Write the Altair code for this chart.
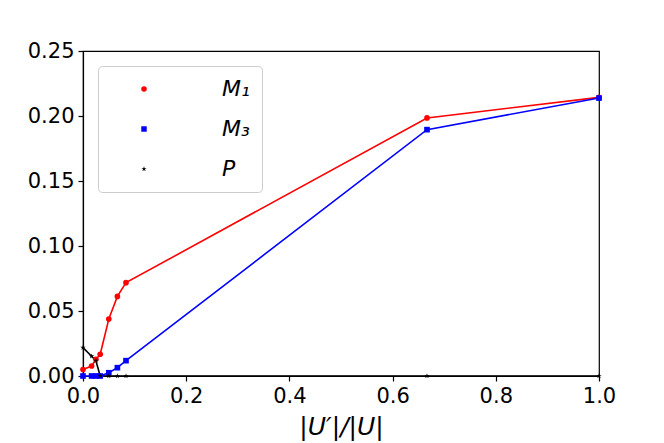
import altair as alt
import pandas as pd

x_vals = [0.0, 1/60, 1/40, 1/30, 1/20, 1/15, 1/12, 2/3, 1.0]
m1_vals = [0.005, 0.0077, 0.0128, 0.0167, 0.0438, 0.0612, 0.0718, 0.1985, 0.2143]
m3_vals = [0.0, 0.0, 0.0, 0.0, 0.0025, 0.0064, 0.0118, 0.1895, 0.2138]
p_vals = [0.0218, 0.0152, 0.0118, 0.0, 0.0, 0.0, 0.0, 0.0, 0.0]

series_names = ["M₁", "M₃", "P"]
series_colors = ["#ff0000", "#0000ff", "#000000"]
STAR = ("M0,-1L0.2245,-0.309L0.951,-0.309L0.363,0.118L0.588,0.809L0,0.382"
        "L-0.588,0.809L-0.363,0.118L-0.951,-0.309L-0.2245,-0.309Z")
series_shapes = ["circle", "square", STAR]

x_ticks = [0.0, 0.2, 0.4, 0.6, 0.8, 1.0]
y_ticks = [0.0, 0.05, 0.10, 0.15, 0.20, 0.25]

rows = []
for name, ys in zip(series_names, [m1_vals, m3_vals, p_vals]):
    for i, (xv, yv) in enumerate(zip(x_vals, ys)):
        rows.append({"x": xv, "y": yv, "series": name, "line_series": name, "order": i})
df = pd.DataFrame(rows)

color_scale = alt.Scale(domain=series_names, range=series_colors)
# data-derived domain (sorted: M₁, M₃, P) so it is not merged with the legend
line_scale = alt.Scale(range=series_colors)
shape_scale = alt.Scale(domain=series_names, range=series_shapes)

x_enc = alt.X("x:Q", scale=alt.Scale(domain=[0, 1], nice=False, zero=False),
              axis=alt.Axis(values=x_ticks, format=".1f", title="|U′|/|U|",
                            labelFlush=False))
y_enc = alt.Y("y:Q", scale=alt.Scale(domain=[0, 0.25], nice=False),
              axis=alt.Axis(values=y_ticks, format=".2f", title=None,
                            labelFlush=False))

lines = alt.Chart(df).mark_line(strokeWidth=1.6).encode(
    x=x_enc, y=y_enc,
    stroke=alt.Stroke("line_series:N", scale=line_scale, legend=None),
    detail="line_series:N",
    order="order:Q",
)

points = alt.Chart(df).mark_point(filled=True, opacity=1, size=32).encode(
    x=x_enc, y=y_enc,
    color=alt.Color("series:N", scale=color_scale, title=""),
    shape=alt.Shape("series:N", scale=shape_scale, title=""),
)

chart = alt.layer(lines, points).properties(
    width=516, height=325,
    padding={"left": 19, "top": 32, "right": 10, "bottom": 5},
).configure(
    font="DejaVu Sans",
).configure_view(
    stroke="#000000", strokeWidth=1.2,
).configure_axis(
    grid=False,
    domainColor="#000000", domainWidth=1.2,
    tickColor="#000000", tickSize=5, tickWidth=1.2,
    labelColor="#000000", labelFontSize=21, labelPadding=4,
    titleColor="#000000", titleFontSize=25, titleFontWeight="normal",
    titleFontStyle="italic", titlePadding=8,
).configure_legend(
    orient="top-left", offset=15,
    fillColor="#ffffff", strokeColor="#cccccc", cornerRadius=4,
    padding=12, labelFontSize=22, labelColor="#000000", labelFontStyle="italic",
    rowPadding=18, labelOffset=67, symbolOffset=23, symbolSize=30,
)

chart.save("out.html", embed_options={"renderer": "svg", "actions": False})
